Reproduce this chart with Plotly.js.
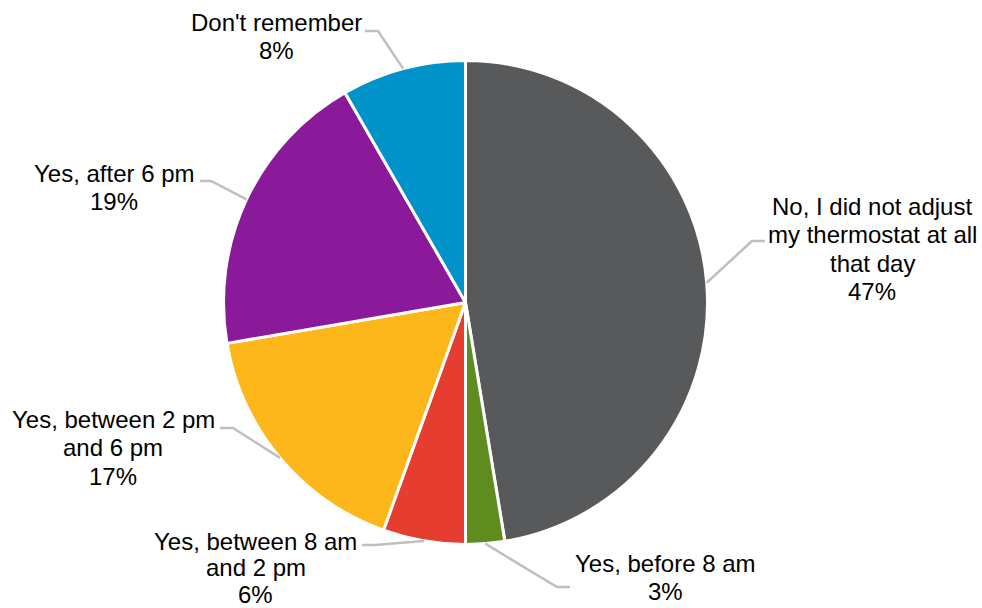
<!DOCTYPE html>
<html>
<head>
<meta charset="utf-8">
<script src="https://cdn.plot.ly/plotly-3.0.1.min.js"></script>
<style>html,body{margin:0;padding:0;background:#fff;}#chart{width:982px;height:608px;}</style>
</head>
<body>
<div id="chart"></div>
<script>
// ---- data ----
var categories = [
  "No, I did not adjust my thermostat at all that day",
  "Yes, before 8 am",
  "Yes, between 8 am and 2 pm",
  "Yes, between 2 pm and 6 pm",
  "Yes, after 6 pm",
  "Don't remember"
];
var values = [47.4, 2.6, 5.5, 16.8, 19.4, 8.3];
var labelLines = [
  ["No, I did not adjust", "my thermostat at all", "that day"],
  ["Yes, before 8 am"],
  ["Yes, between 8 am", "and 2 pm"],
  ["Yes, between 2 pm", "and 6 pm"],
  ["Yes, after 6 pm"],
  ["Don't remember"]
];
var colors = ["#58595B", "#5E8C1F", "#E53D2F", "#FDB71A", "#8B1A9B", "#0093C9"];

// ---- label placement (px) ----
var W = 982, H = 608;
var pieCx = 465.5, pieCy = 302.5, pieR = 242;
var labelCenterX = [872, 665, 256, 113, 114, 276];
var labelFirstY  = [206, 563, 541, 419, 173, 22];
var labelStep    = [28.5, 28.5, 26.5, 28.5, 28.5, 28.5];
var leaderEnd    = [[765,241],[570,587],[362,545],[220,428],[200,181],[365,31]];
var leaderElbow  = [[752,241],[557,587],[375,545],[233,428],[211,181],[378,31]];

function px(x){ return x / W; }
function py(y){ return 1 - y / H; }

var total = values.reduce(function(a,b){return a+b;}, 0);
var annotations = [];
var shapes = [];
var cum = 0;
for (var i = 0; i < values.length; i++) {
  var mid = (cum + values[i] / 2) / total * 2 * Math.PI;
  cum += values[i];
  var ex = pieCx + pieR * Math.sin(mid);
  var ey = pieCy - pieR * Math.cos(mid);
  var lines = labelLines[i].concat([Math.round(values[i] / total * 100) + "%"]);
  for (var k = 0; k < lines.length; k++) {
    annotations.push({
      xref: "paper", yref: "paper",
      x: px(labelCenterX[i]), y: py(labelFirstY[i] + k * labelStep[i]),
      xanchor: "center", yanchor: "middle",
      text: lines[k], showarrow: false, borderpad: 0,
      font: {family: "Liberation Sans, Arial, sans-serif", size: 24, color: "#000000"}
    });
  }
  shapes.push({
    type: "path", xref: "paper", yref: "paper",
    path: "M " + px(ex) + "," + py(ey) +
          " L " + px(leaderElbow[i][0]) + "," + py(leaderElbow[i][1]) +
          " L " + px(leaderEnd[i][0]) + "," + py(leaderEnd[i][1]),
    line: {color: "#BFBFBF", width: 2.5}
  });
}

var trace = {
  type: "pie",
  labels: categories,
  values: values,
  sort: false,
  direction: "clockwise",
  rotation: 0,
  marker: {colors: colors, line: {color: "#FFFFFF", width: 3}},
  textinfo: "none",
  hoverinfo: "label+percent",
  showlegend: false,
  domain: {
    x: [px(pieCx - pieR), px(pieCx + pieR)],
    y: [py(pieCy + pieR), py(pieCy - pieR)]
  }
};

var layout = {
  width: W, height: H,
  margin: {l: 0, r: 0, t: 0, b: 0},
  paper_bgcolor: "#FFFFFF",
  plot_bgcolor: "#FFFFFF",
  showlegend: false,
  annotations: annotations,
  shapes: shapes
};

Plotly.newPlot("chart", [trace], layout, {displayModeBar: false, staticPlot: true});
</script>
</body>
</html>
